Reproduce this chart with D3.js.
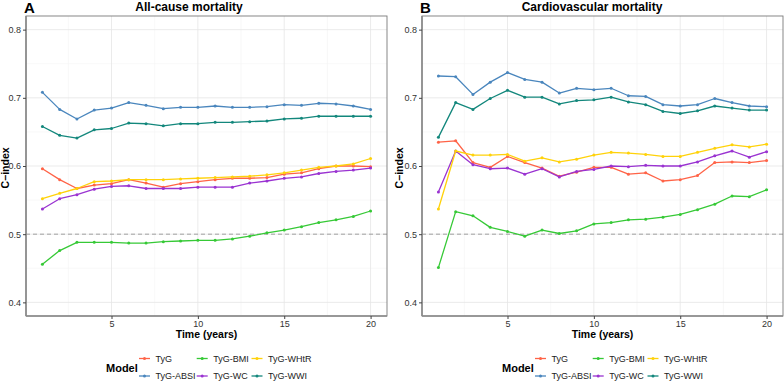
<!DOCTYPE html>
<html>
<head>
<meta charset="utf-8">
<script src="https://cdn.jsdelivr.net/npm/d3@7"></script>
<style>
  body { margin: 0; background: #fff; }
  svg { font-family: "Liberation Sans", Arial, sans-serif; }
</style>
</head>
<body>
<div id="chart"></div>
<script>
// data
const years = [1, 2, 3, 4, 5, 6, 7, 8, 9, 10, 11, 12, 13, 14, 15, 16, 17, 18, 19, 20];
const models = ["TyG", "TyG-ABSI", "TyG-BMI", "TyG-WC", "TyG-WHtR", "TyG-WWI"];
const colors = ["#ff6347", "#4a86bd", "#36c936", "#9a33d1", "#ffd20a", "#13877c"];

// All-cause mortality
const allTyG  = [0.596, 0.580, 0.567, 0.572, 0.574, 0.580, 0.575, 0.569, 0.574, 0.577, 0.580, 0.582, 0.582, 0.583, 0.588, 0.590, 0.596, 0.600, 0.600, 0.599];
const allABSI = [0.708, 0.683, 0.669, 0.682, 0.685, 0.693, 0.689, 0.684, 0.686, 0.686, 0.688, 0.686, 0.686, 0.687, 0.690, 0.689, 0.692, 0.691, 0.688, 0.683];
const allBMI  = [0.456, 0.476, 0.488, 0.488, 0.488, 0.487, 0.487, 0.489, 0.490, 0.491, 0.491, 0.493, 0.497, 0.502, 0.506, 0.511, 0.517, 0.521, 0.526, 0.534];
const allWC   = [0.537, 0.552, 0.558, 0.566, 0.570, 0.571, 0.567, 0.567, 0.567, 0.569, 0.569, 0.569, 0.575, 0.578, 0.582, 0.584, 0.589, 0.592, 0.594, 0.597];
const allWHtR = [0.552, 0.560, 0.567, 0.577, 0.578, 0.580, 0.580, 0.580, 0.581, 0.582, 0.583, 0.584, 0.585, 0.587, 0.590, 0.594, 0.598, 0.600, 0.603, 0.611];
const allWWI  = [0.658, 0.645, 0.641, 0.653, 0.655, 0.663, 0.662, 0.659, 0.662, 0.662, 0.664, 0.664, 0.665, 0.666, 0.669, 0.670, 0.673, 0.673, 0.673, 0.673];

// Cardiovascular mortality
const cvdTyG  = [0.635, 0.637, 0.605, 0.598, 0.614, 0.605, 0.597, 0.585, 0.591, 0.598, 0.598, 0.588, 0.590, 0.578, 0.580, 0.586, 0.605, 0.606, 0.605, 0.608];
const cvdABSI = [0.732, 0.731, 0.705, 0.723, 0.737, 0.727, 0.723, 0.707, 0.714, 0.712, 0.714, 0.703, 0.702, 0.690, 0.688, 0.690, 0.699, 0.693, 0.688, 0.687];
const cvdBMI  = [0.451, 0.533, 0.527, 0.510, 0.504, 0.497, 0.506, 0.501, 0.505, 0.515, 0.517, 0.521, 0.522, 0.525, 0.529, 0.536, 0.544, 0.556, 0.555, 0.565];
const cvdWC   = [0.562, 0.622, 0.602, 0.596, 0.597, 0.588, 0.596, 0.584, 0.592, 0.595, 0.600, 0.599, 0.601, 0.600, 0.600, 0.606, 0.615, 0.622, 0.613, 0.621];
const cvdWHtR = [0.537, 0.622, 0.616, 0.616, 0.617, 0.607, 0.612, 0.606, 0.610, 0.616, 0.620, 0.619, 0.617, 0.614, 0.614, 0.620, 0.626, 0.631, 0.628, 0.632];
const cvdWWI  = [0.642, 0.693, 0.683, 0.699, 0.711, 0.701, 0.701, 0.691, 0.696, 0.697, 0.701, 0.694, 0.690, 0.680, 0.677, 0.681, 0.688, 0.685, 0.682, 0.682];

const yTicks = [0.4, 0.5, 0.6, 0.7, 0.8];
const yMinor = [0.45, 0.55, 0.65, 0.75];
const xTicks = [5, 10, 15, 20];
const xMinor = [2.5, 7.5, 12.5, 17.5];

const width = 784, height = 381;
const plotTop = 16, plotBottom = 316;

const panels = [
  { tag: "A", title: "All-cause  mortality", left: 26, right: 387, titleX: 189, ylabX: 9,
    series: [allTyG, allABSI, allBMI, allWC, allWHtR, allWWI] },
  { tag: "B", title: "Cardiovascular mortality", left: 422, right: 783, titleX: 592, ylabX: 403,
    series: [cvdTyG, cvdABSI, cvdBMI, cvdWC, cvdWHtR, cvdWWI] }
];

const svg = d3.select("#chart").append("svg")
  .attr("width", width)
  .attr("height", height);

panels.forEach(p => drawPanel(p));

function drawPanel(p) {
  const g = svg.append("g");
  const x = d3.scaleLinear().domain([0.05, 20.95]).range([p.left, p.right]);
  const y = d3.scaleLinear().domain([0.38, 0.82]).range([plotBottom, plotTop]);

  // grid
  const grid = g.append("g");
  grid.selectAll(".minx").data(xMinor).join("line")
    .attr("class", "minx")
    .attr("x1", d => x(d)).attr("x2", d => x(d)).attr("y1", plotTop).attr("y2", plotBottom)
    .attr("stroke", "#f3f3f3").attr("stroke-width", 0.6);
  grid.selectAll(".miny").data(yMinor).join("line")
    .attr("class", "miny")
    .attr("x1", p.left).attr("x2", p.right).attr("y1", d => y(d)).attr("y2", d => y(d))
    .attr("stroke", "#f3f3f3").attr("stroke-width", 0.6);
  grid.selectAll(".majx").data(xTicks).join("line")
    .attr("class", "majx")
    .attr("x1", d => x(d)).attr("x2", d => x(d)).attr("y1", plotTop).attr("y2", plotBottom)
    .attr("stroke", "#e6e6e6").attr("stroke-width", 0.8);
  grid.selectAll(".majy").data(yTicks).join("line")
    .attr("class", "majy")
    .attr("x1", p.left).attr("x2", p.right).attr("y1", d => y(d)).attr("y2", d => y(d))
    .attr("stroke", "#e6e6e6").attr("stroke-width", 0.8);

  // reference line at 0.5
  g.append("line")
    .attr("x1", p.left).attr("x2", p.right)
    .attr("y1", y(0.5)).attr("y2", y(0.5))
    .attr("stroke", "#8c8c8c").attr("stroke-width", 0.8)
    .attr("stroke-dasharray", "4,3");

  // lines + points
  const line = d3.line().x((d, i) => x(years[i])).y(d => y(d));
  p.series.forEach((vals, k) => {
    g.append("path")
      .datum(vals)
      .attr("d", line)
      .attr("fill", "none")
      .attr("stroke", colors[k])
      .attr("stroke-width", 1.3)
      .attr("stroke-linejoin", "round");
    g.append("g").selectAll("circle").data(vals).join("circle")
      .attr("cx", (d, i) => x(years[i]))
      .attr("cy", d => y(d))
      .attr("r", 1.5)
      .attr("fill", colors[k]);
  });

  // border
  g.append("rect")
    .attr("x", p.left).attr("y", plotTop)
    .attr("width", p.right - p.left).attr("height", plotBottom - plotTop)
    .attr("fill", "none").attr("stroke", "#7a7a7a").attr("stroke-width", 0.9);
  g.append("line")
    .attr("x1", p.left).attr("x2", p.left).attr("y1", plotTop).attr("y2", plotBottom)
    .attr("stroke", "#8a8a8a").attr("stroke-width", 1.6);
  g.append("line")
    .attr("x1", p.left).attr("x2", p.right).attr("y1", plotBottom).attr("y2", plotBottom)
    .attr("stroke", "#8a8a8a").attr("stroke-width", 1.4);

  // axes
  const ya = g.append("g")
    .attr("transform", `translate(${p.left},0)`)
    .call(d3.axisLeft(y).tickValues(yTicks).tickSize(3).tickPadding(2).tickFormat(d3.format(".1f")));
  const xa = g.append("g")
    .attr("transform", `translate(0,${plotBottom})`)
    .call(d3.axisBottom(x).tickValues(xTicks).tickSize(3).tickPadding(2));
  [ya, xa].forEach(a => {
    a.select(".domain").remove();
    a.selectAll(".tick line").attr("stroke", "#444");
    a.selectAll(".tick text").attr("fill", "#333").style("font-size", "9px")
      .style("font-family", "Liberation Sans, Arial, sans-serif");
  });

  // titles
  g.append("text")
    .attr("x", p.left - 2).attr("y", 13)
    .style("font-size", "15px").style("font-weight", "bold")
    .text(p.tag);
  g.append("text")
    .attr("x", p.titleX).attr("y", 11)
    .attr("text-anchor", "middle")
    .style("font-size", "12px").style("font-weight", "bold")
    .text(p.title);
  g.append("text")
    .attr("transform", `translate(${p.ylabX},168) rotate(-90)`)
    .attr("text-anchor", "middle")
    .style("font-size", "10.5px").style("font-weight", "bold")
    .text("C\u2212index");
  g.append("text")
    .attr("x", (p.left + p.right) / 2).attr("y", 338)
    .attr("text-anchor", "middle")
    .style("font-size", "10.5px").style("font-weight", "bold")
    .text("Time (years)");

  // legend
  const cx = (p.left + p.right) / 2;
  const lg = g.append("g");
  lg.append("text")
    .attr("x", cx - 100.5).attr("y", 371.5)
    .style("font-size", "11px").style("font-weight", "bold")
    .text("Model");
  const colKey = [-67.5, -9.8, 45];
  const rowY = [358.5, 376];
  models.forEach((m, k) => {
    const col = Math.floor(k / 2), row = k % 2;
    const kx = cx + colKey[col], ky = rowY[row];
    lg.append("line")
      .attr("x1", kx).attr("x2", kx + 11).attr("y1", ky).attr("y2", ky)
      .attr("stroke", colors[k]).attr("stroke-width", 1.3);
    lg.append("circle")
      .attr("cx", kx + 5.5).attr("cy", ky).attr("r", 1.5).attr("fill", colors[k]);
    lg.append("text")
      .attr("x", kx + 16.5).attr("y", ky + 3.2)
      .attr("fill", "#222")
      .style("font-size", "9px")
      .text(m);
  });
}
</script>
</body>
</html>
